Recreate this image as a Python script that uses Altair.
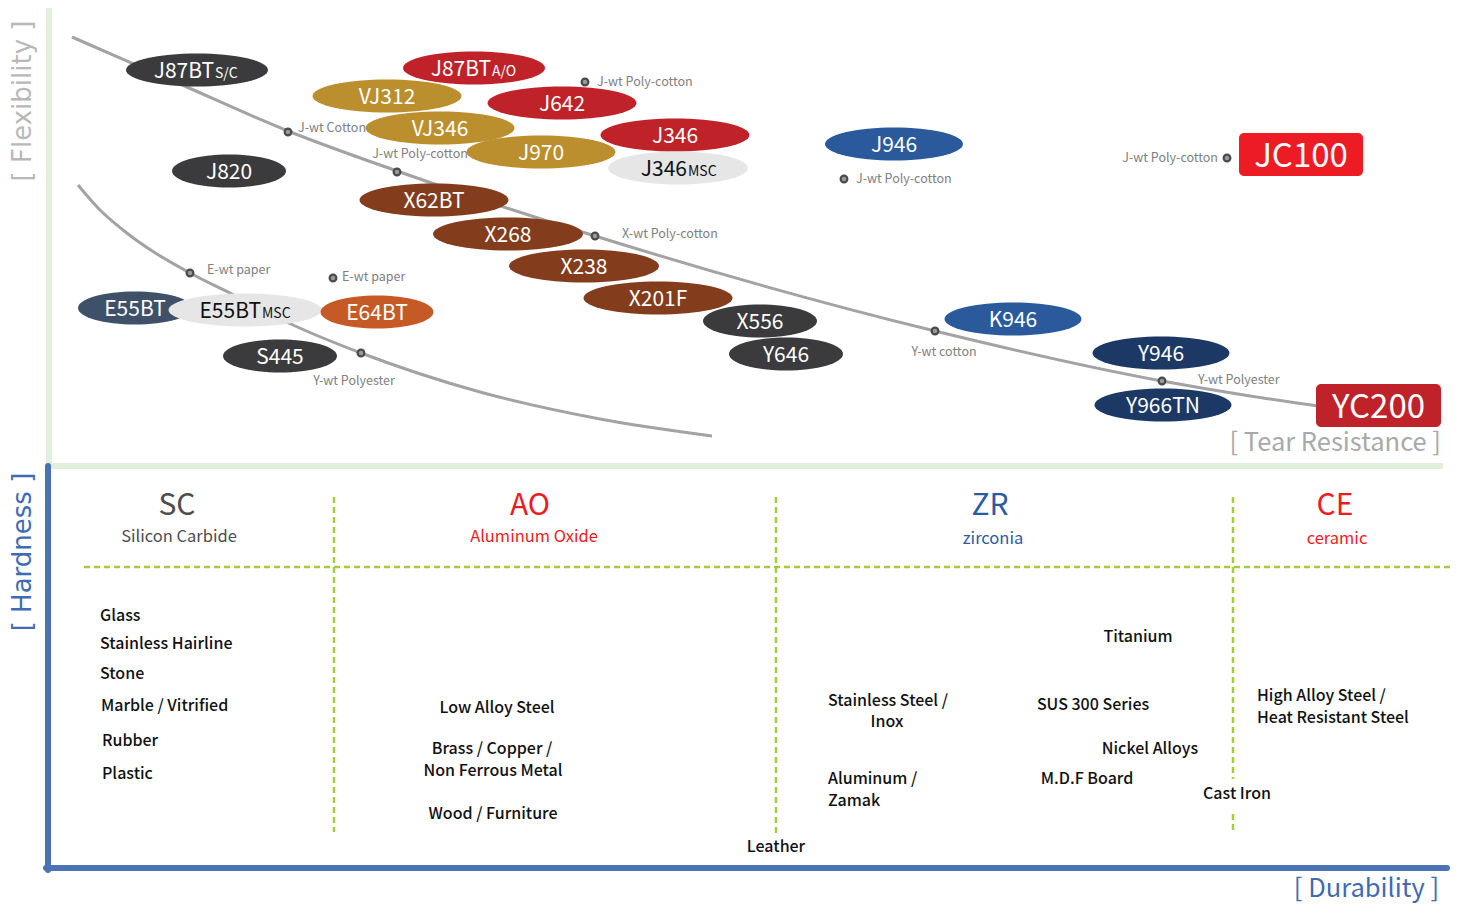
import altair as alt
import pandas as pd
import numpy as np

# ---------------- data ----------------
# Top panel: belts placed by tear resistance (x) and flexibility (y), chart units
ell_name = ["J87BT", "J820", "J87BT", "J642", "VJ312", "VJ346", "J970", "J346", "J346", "J946",
            "X62BT", "X268", "X238", "X201F", "X556", "Y646",
            "E55BT", "E55BT", "E64BT", "S445", "K946", "Y946", "Y966TN"]
ell_sub = ["S/C", "", "A/O", "", "", "", "", "", "MSC", "",
           "", "", "", "", "", "",
           "", "MSC", "", "", "", "", ""]
ell_x = [197, 229, 474, 562, 387, 440, 541, 675, 678, 894,
         434, 508, 584, 658, 760, 786,
         135, 245, 377, 280, 1013, 1161, 1163]
ell_y = [70, 171, 68, 103, 96, 128, 152, 135, 168, 144,
         200, 234, 266, 298, 321, 354,
         308, 310, 312, 356, 319, 353, 405]
ell_group = ["charcoal", "charcoal", "red", "red", "gold", "gold", "gold", "red", "silver", "blue",
             "brown", "brown", "brown", "brown", "charcoal", "charcoal",
             "slate", "silver", "orange", "charcoal", "blue", "navy", "navy"]
ell_split = [214, 0, 491, 0, 0, 0, 0, 0, 687, 0,
             0, 0, 0, 0, 0, 0,
             0, 261, 0, 0, 0, 0, 0]

box_name = ["JC100", "YC200"]
box_x = [1239, 1316]
box_x2 = [1363, 1441]
box_y = [133, 384]
box_y2 = [176, 427]
box_group = ["bright", "red"]

curve_id = ["J/X/Y"] * 9 + ["E/Y"] * 10
curve_x = [72, 180, 288, 397, 595, 935, 1162, 1250, 1318,
           78, 100, 123, 190, 230, 293, 361, 480, 600, 712]
curve_y = [37, 84, 131, 171, 236, 331, 381, 396, 406,
           185, 210, 230, 273, 293, 325, 353, 392, 419, 436]

dot_x = [288, 397, 585, 595, 935, 1162, 844, 1227, 190, 333, 361]
dot_y = [132, 172, 82, 236, 331, 381, 179, 158, 273, 278, 353]
dot_label = ["J-wt  Cotton", "J-wt Poly-cotton", "J-wt Poly-cotton", "X-wt Poly-cotton",
             "Y-wt cotton", "Y-wt Polyester", "J-wt Poly-cotton", "J-wt Poly-cotton",
             "E-wt paper", "E-wt paper", "Y-wt Polyester"]
lab_x = [298, 420, 597, 622, 944, 1198, 856, 1218, 207, 342, 354]
lab_y = [128, 154, 82, 234, 352, 380, 179, 158, 270, 277, 381]
lab_align = ["left", "center", "left", "left", "center", "left", "left", "right",
             "left", "left", "center"]

# Bottom panel: abrasive grain families and materials
fam_code = ["SC", "AO", "ZR", "CE"]
fam_name = ["Silicon Carbide", "Aluminum Oxide", "zirconia", "ceramic"]
fam_x = [177, 530, 990, 1335]
fam_name_x = [179, 534, 993, 1337]
fam_group = ["gray", "red", "blue", "red"]

mat_text = ["Glass", "Stainless Hairline", "Stone", "Marble / Vitrified", "Rubber", "Plastic",
            "Low Alloy Steel", "Brass / Copper /", "Non Ferrous Metal", "Wood / Furniture",
            "Leather", "Stainless Steel /", "Inox", "Aluminum /", "Zamak",
            "Titanium", "SUS 300 Series", "Nickel Alloys", "M.D.F Board", "Cast Iron",
            "High Alloy Steel /", "Heat Resistant Steel"]
mat_x = [100, 100, 100, 101, 102, 102,
         497, 492, 493, 493,
         776, 888, 887, 828, 828,
         1138, 1093, 1150, 1087, 1237,
         1257, 1257]
mat_y = [616, 644, 674, 706, 741, 774,
         708, 749, 771, 814,
         847, 701, 722, 779, 801,
         637, 705, 749, 779, 794,
         696, 718]
mat_align = ["left"] * 6 + ["center"] * 7 + ["left"] * 2 + ["center"] * 5 + ["left"] * 2

# ---------------- styles ----------------
FONT = "Noto Sans CJK JP"
PALETTE = {"charcoal": "#3b3a3c", "red": "#c0222a", "gold": "#bb8e2e", "silver": "#e6e6e6",
           "blue": "#2b5a9c", "brown": "#833d1c", "slate": "#3f5069", "orange": "#c55a26",
           "navy": "#1c3966", "bright": "#ed1c24", "gray": "#4d4d4d"}
FAM_COLORS = {"gray": "#4d4d4d", "red": "#ed1c24", "blue": "#2a5ba0"}
ELL_H = 33
ELL_W = {"J87BT": 142, "J820": 114, "J642": 149, "VJ312": 149, "VJ346": 149, "J970": 149,
         "J346": 149, "J946": 138, "X62BT": 149, "X268": 150, "X238": 150, "X201F": 149,
         "X556": 114, "Y646": 114, "E55BT": 114, "E64BT": 113, "S445": 114, "K946": 137,
         "Y946": 137, "Y966TN": 137}


def ellipse_path(r, n=64):
    t = np.linspace(0, 2 * np.pi, n, endpoint=False)
    return "M" + "L".join(f"{np.cos(a):.4f},{r * np.sin(a):.4f}" for a in t) + "Z"


xs = alt.Scale(domain=[8, 1453], nice=False, zero=False)
ys = alt.Scale(domain=[8, 905], nice=False, zero=False, reverse=True)


def X(f="x"):
    return alt.X(f"{f}:Q", scale=xs, axis=None)


def Y(f="y"):
    return alt.Y(f"{f}:Q", scale=ys, axis=None)


# ---------------- frames ----------------
frame = pd.DataFrame({
    "x": [49, 46, 48, 46], "x2": [49, 1443, 48, 1447],
    "y": [8, 466, 466, 868], "y2": [463, 466, 870, 868],
    "c": ["#e2efda", "#e2efda", "#4a72b5", "#4a72b5"],
})
frame_green = alt.Chart(frame.iloc[:2]).mark_rule(strokeWidth=6, strokeCap="butt").encode(
    x=X(), x2="x2:Q", y=Y(), y2="y2:Q", color=alt.Color("c:N", scale=None))
frame_blue = alt.Chart(frame.iloc[2:]).mark_rule(strokeWidth=6, strokeCap="round").encode(
    x=X(), x2="x2:Q", y=Y(), y2="y2:Q", color=alt.Color("c:N", scale=None))

dash = pd.DataFrame({
    "x": [84, 334, 776, 1233, 1233], "x2": [1453, 334, 776, 1233, 1233],
    "y": [567, 497, 497, 497, 814], "y2": [567, 832, 835, 779, 832],
})
dashed = alt.Chart(dash).mark_rule(strokeWidth=2.5, color="#a4cc3c", strokeDash=[6, 4]).encode(
    x=X(), x2="x2:Q", y=Y(), y2="y2:Q")

# ---------------- curves ----------------
cdf = pd.DataFrame({"id": curve_id, "x": curve_x, "y": curve_y, "o": range(len(curve_x))})
curves = alt.Chart(cdf).mark_line(color="#a3a3a3", strokeWidth=3, interpolate="monotone").encode(
    x=X(), y=Y(), detail="id:N", order="o:Q")

# ---------------- ellipses ----------------
edf = pd.DataFrame({"name": ell_name, "sub": ell_sub, "x": ell_x, "y": ell_y,
                    "group": ell_group, "split": ell_split})
edf["w"] = [ELL_W[n] + (39 if (n == "E55BT" and s == "MSC") else 0) + (-9 if (n == "J346" and s == "MSC") else 0)
            for n, s in zip(edf["name"], edf["sub"])]
edf["size"] = edf["w"] ** 2
edf["path"] = [ellipse_path(ELL_H / w) for w in edf["w"]]
edf["fill"] = [PALETTE[g] for g in edf["group"]]
edf["tc"] = ["#111111" if g == "silver" else "#ffffff" for g in edf["group"]]
edf["ty"] = edf["y"] + 8
edf["order"] = range(len(edf))

ellipses = alt.Chart(edf).mark_point(filled=True, opacity=1, strokeWidth=0).encode(
    x=X(), y=Y(),
    shape=alt.Shape("path:N", scale=None),
    size=alt.Size("size:Q", scale=None),
    color=alt.Color("fill:N", scale=None),
    order="order:Q")

plain = edf[edf["split"] == 0]
split = edf[edf["split"] > 0].copy()
split["sx"] = split["split"] + 1

ell_text = alt.Chart(plain).mark_text(font=FONT, fontSize=21, align="center", baseline="alphabetic").encode(
    x=X(), y=Y("ty"), text="name:N", color=alt.Color("tc:N", scale=None))
ell_text_main = alt.Chart(split).mark_text(font=FONT, fontSize=21, align="right", baseline="alphabetic").encode(
    x=X("split"), y=Y("ty"), text="name:N", color=alt.Color("tc:N", scale=None))
ell_text_sub = alt.Chart(split).mark_text(font=FONT, fontSize=14, align="left", baseline="alphabetic").encode(
    x=X("sx"), y=Y("ty"), text="sub:N", color=alt.Color("tc:N", scale=None))

# ---------------- boxes ----------------
bdf = pd.DataFrame({"name": box_name, "x": box_x, "x2": box_x2, "y": box_y, "y2": box_y2,
                    "group": box_group})
bdf["fill"] = [PALETTE[g] for g in bdf["group"]]
bdf["cx"] = (bdf["x"] + bdf["x2"]) / 2
bdf["cy"] = (bdf["y"] + bdf["y2"]) / 2 + 12
boxes = alt.Chart(bdf).mark_rect(cornerRadius=5).encode(
    x=X(), x2="x2:Q", y=Y(), y2="y2:Q", color=alt.Color("fill:N", scale=None))
box_text = alt.Chart(bdf).mark_text(font=FONT, fontSize=33, color="white", baseline="alphabetic").encode(
    x=X("cx"), y=Y("cy"), text="name:N")

# ---------------- dots ----------------
ddf = pd.DataFrame({"x": dot_x, "y": dot_y, "label": dot_label, "lx": lab_x, "ly": lab_y,
                    "align": lab_align})
dots = alt.Chart(ddf).mark_point(filled=True, fill="#9a9a9a", stroke="#4a4a4a", strokeWidth=2.2,
                                  size=45, opacity=1).encode(x=X(), y=Y())
dot_layers = []
for a in ["left", "center", "right"]:
    dot_layers.append(
        alt.Chart(ddf[ddf["align"] == a]).mark_text(font=FONT, fontSize=12.5, color="#808080",
                                                    align=a, baseline="middle").encode(
            x=X("lx"), y=Y("ly"), text="label:N"))

# ---------------- bottom panel text ----------------
fdf = pd.DataFrame({"code": fam_code, "name": fam_name, "x": fam_x, "nx": fam_name_x,
                    "group": fam_group})
fdf["c"] = [FAM_COLORS[g] for g in fdf["group"]]
fdf["y"] = 506
fdf["ny"] = [537, 537, 539, 539]
fam_codes = alt.Chart(fdf).mark_text(font=FONT, fontSize=30, baseline="middle").encode(
    x=X(), y=Y(), text="code:N", color=alt.Color("c:N", scale=None))
fam_names = alt.Chart(fdf).mark_text(font=FONT, fontSize=16.5, baseline="middle").encode(
    x=X("nx"), y=Y("ny"), text="name:N", color=alt.Color("c:N", scale=None))

mdf = pd.DataFrame({"t": mat_text, "x": mat_x, "y": mat_y, "align": mat_align})
mat_layers = []
for a in ["left", "center"]:
    mat_layers.append(
        alt.Chart(mdf[mdf["align"] == a]).mark_text(font=FONT, fontSize=16, fontWeight=500,
                                                    color="#111111", align=a, baseline="middle").encode(
            x=X(), y=Y(), text="t:N"))

# ---------------- axis titles ----------------
tdf = pd.DataFrame({
    "t": ["[ Flexibility ]", "[ Hardness ]"], "x": [23, 23], "y": [101, 552],
    "c": ["#b8b8b8", "#3f6bb3"]})
vtitles = alt.Chart(tdf).mark_text(font="DejaVu Sans", fontSize=26, angle=270, align="center",
                                   baseline="middle").encode(
    x=X(), y=Y(), text="t:N", color=alt.Color("c:N", scale=None))
hdf = pd.DataFrame({"t": ["[ Tear Resistance ]", "[ Durability ]"], "x": [1441, 1439],
                    "y": [443, 889], "c": ["#a9a9a9", "#3f6bb3"]})
htitles = alt.Chart(hdf).mark_text(font=FONT, fontSize=25.5, align="right", baseline="middle").encode(
    x=X(), y=Y(), text="t:N", color=alt.Color("c:N", scale=None))

chart = alt.layer(
    frame_green, frame_blue, dashed, curves, ellipses, ell_text, ell_text_main, ell_text_sub,
    boxes, box_text, dots, *dot_layers, fam_codes, fam_names, *mat_layers, vtitles, htitles
).properties(
    width=1445, height=897, padding=0,
    autosize=alt.AutoSizeParams(type="none")
).configure_view(stroke=None)

chart.save("out.html", embed_options={"renderer": "svg", "actions": False})
